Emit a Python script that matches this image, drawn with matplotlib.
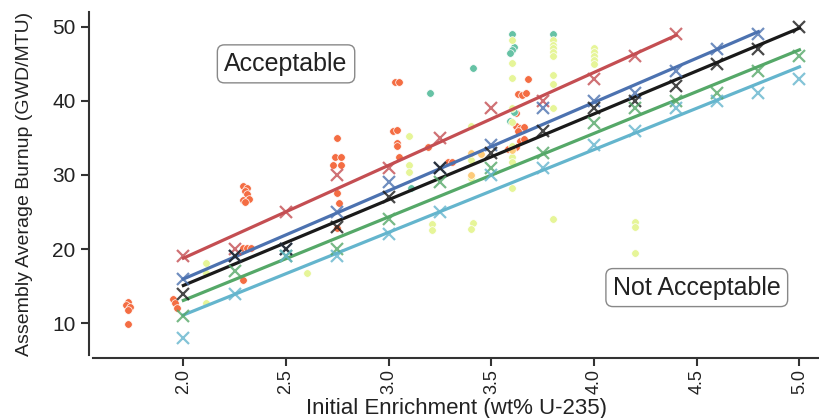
import numpy as np
import matplotlib
matplotlib.use("Agg")
import matplotlib.pyplot as plt

plt.rcParams['font.family'] = ['Liberation Sans', 'DejaVu Sans']

# enrichment points used by the limit curves
enrich = [2.0, 2.25, 2.5, 2.75, 3.0, 3.25, 3.5, 3.75, 4.0, 4.2, 4.4, 4.6, 4.8, 5.0]

red_y = [19, 20, 25, 30, 31, 35, 39, 40, 43, 46, 49]
blue_y = [16, 19, 20, 25, 29, 31, 34, 39, 40, 41, 44, 47, 49]
black_y = [14, 19, 20, 23, 27, 31, 33, 36, 39, 40, 42, 45, 47, 50]
green_y = [11, 17, 19, 20, 24, 29, 31, 33, 37, 39, 40, 41, 44, 46]
cyan_y = [8, 14, 19, 19, 22, 25, 30, 31, 34, 36, 39, 40, 41, 43]

# assembly data points, grouped by colour
orange_x = [1.73, 1.72, 1.74, 1.73, 1.73, 1.95, 1.96, 1.97,
            2.29, 2.31, 2.30, 2.31, 2.29, 2.32, 2.30, 2.29, 2.31, 2.33, 2.29,
            2.75, 2.74, 2.77, 2.73, 2.77, 2.75, 2.76, 2.75,
            3.03, 3.05, 3.02, 3.04, 3.04, 3.04, 3.05, 3.19, 3.29, 3.31,
            3.68, 3.63, 3.65, 3.67, 3.62, 3.62, 3.64, 3.66, 3.63, 3.64, 3.66, 3.62, 3.58]
orange_y = [12.8, 12.5, 12.2, 11.8, 9.9, 13.3, 12.7, 12.1,
            28.5, 28.3, 27.8, 27.4, 26.6, 26.8, 26.4, 20.2, 20.2, 20.2, 15.8,
            35.0, 32.4, 32.4, 31.4, 31.4, 27.6, 26.2, 22.9,
            42.5, 42.5, 36.0, 36.1, 34.3, 33.9, 32.4, 33.8, 31.8, 31.8,
            43.0, 40.9, 40.8, 41.1, 38.4, 36.6, 36.3, 36.5, 35.9, 34.6, 34.8, 33.8, 33.5]

teal_x = [3.6, 3.8, 3.61, 3.6, 3.59, 3.41, 3.2, 3.61, 3.59, 3.11]
teal_y = [49, 49, 47.3, 46.9, 46.5, 44.5, 41, 38.5, 37.3, 28.2]

lime_x = [2.11, 2.11, 2.11, 2.6, 3.1, 3.1, 3.1, 3.4, 3.4, 3.4,
          3.6, 3.6, 3.6, 3.6, 3.6, 3.6, 3.6, 3.6, 3.6,
          3.8, 3.8, 3.8, 3.8, 3.8, 3.8, 3.8, 3.8, 3.8,
          4.0, 4.0, 4.0, 4.0, 4.0,
          3.21, 3.21, 3.41, 3.4, 4.2, 4.2, 4.2]
lime_y = [18.1, 16.8, 12.7, 16.8, 35.3, 31.3, 30.4, 36.6, 32.0, 29.6,
          48.2, 45.1, 43.1, 39.0, 37.2, 33.9, 32.4, 31.8, 28.2,
          48.2, 47.6, 47.1, 46.6, 46.1, 43.5, 42.3, 39.0, 24.1,
          47.2, 46.6, 46.0, 45.5, 45.0,
          23.4, 22.6, 23.5, 22.7, 23.6, 23.0, 19.5]

peach_x = [3.4, 3.4, 3.6, 3.45]
peach_y = [33.0, 30.0, 33.4, 32.8]

fig = plt.figure(figsize=(8.2, 4.18), dpi=100)
ax = fig.add_axes([93 / 820, 63 / 418, 727 / 820, 343 / 418])

ax.scatter(orange_x, orange_y, s=30, color='#F46D43', edgecolor='white', linewidth=0.5, zorder=1.5)
ax.scatter(teal_x, teal_y, s=30, color='#66C2A5', edgecolor='white', linewidth=0.5, zorder=1.5)
ax.scatter(lime_x, lime_y, s=30, color='#E6F598', edgecolor='white', linewidth=0.5, zorder=1.5)
ax.scatter(peach_x, peach_y, s=30, color='#FDCB7A', edgecolor='white', linewidth=0.5, zorder=1.5)

curves = [(red_y, '#C44E52'), (blue_y, '#4C72B0'), (black_y, '#1a1a1a'),
          (green_y, '#55A868'), (cyan_y, '#64B5CD')]
for ys, c in curves:
    xs = np.array(enrich[:len(ys)])
    ys = np.array(ys)
    k, b = np.polyfit(xs, ys, 1)
    ax.plot(xs, k * xs + b, color=c, lw=2.3, zorder=2)
    ax.plot(xs, ys, ls='none', marker='x', ms=9, mew=1.6, color=c, alpha=0.8, zorder=3)

box = dict(boxstyle='round,pad=0.28', fc='white', ec='#888888', lw=1)
ax.text(2.5, 45, 'Acceptable', ha='center', va='center', fontsize=18, color='#222222', bbox=box)
ax.text(4.5, 14.8, 'Not Acceptable', ha='center', va='center', fontsize=18, color='#222222', bbox=box)

ax.set_xlim(1.56, 5.1)
ax.set_ylim(5.7, 52)
ax.set_xticks([2.0, 2.5, 3.0, 3.5, 4.0, 4.5, 5.0])
ax.set_xticklabels(['2.0', '2.5', '3.0', '3.5', '4.0', '4.5', '5.0'])
ax.set_yticks([10, 20, 30, 40, 50])

for s in ['top', 'right']:
    ax.spines[s].set_visible(False)
ax.spines['left'].set_position(('outward', 3))
ax.spines['bottom'].set_position(('outward', 2))
for s in ['left', 'bottom']:
    ax.spines[s].set_color('#333333')
    ax.spines[s].set_linewidth(1.5)
ax.tick_params(axis='both', colors='#333333', length=6, width=1.5, labelsize=15, labelcolor='#222222')
ax.tick_params(axis='x', labelrotation=90, labelsize=13, pad=2)

ax.set_xlabel('Initial Enrichment (wt% U-235)', fontsize=16, color='#222222', va='baseline')
ax.xaxis.set_label_coords(0.5, -(414 - 355) / 343)
ax.set_ylabel('Assembly Average Burnup (GWD/MTU)', fontsize=14, color='#222222', labelpad=14)

fig.savefig('out.png', dpi=100)
